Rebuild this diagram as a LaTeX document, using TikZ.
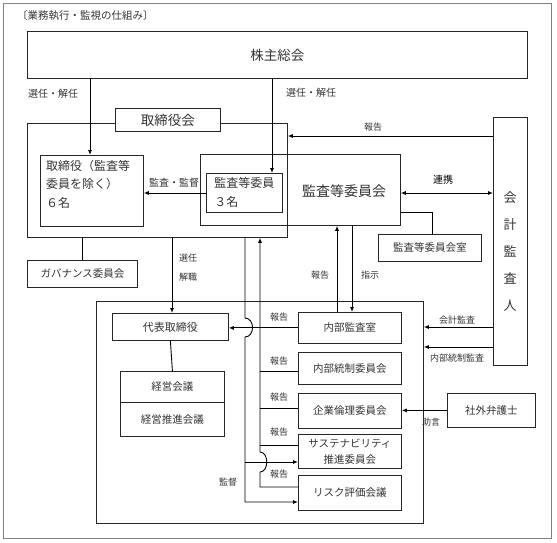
\documentclass[tikz,border=0pt]{standalone}
\usepackage{fontspec}
\newfontfamily\jp{Noto Sans CJK JP}
\usetikzlibrary{arrows.meta}
\tikzset{
  box/.style={draw=black!85, line width=0.8pt, inner sep=0pt, anchor=north west,
    text=black!80, font=\jp\fontsize{10.5pt}{13pt}\selectfont},
  txt/.style={inner sep=0pt, text=black!80, font=\jp\fontsize{10.5pt}{13pt}\selectfont},
  lbl/.style={inner sep=0pt, text=black!80, font=\jp\fontsize{9pt}{11pt}\selectfont},
  conn/.style={line width=0.9pt, draw=black},
  arr/.style={conn, -{Latex[length=5pt,width=4pt]}},
  darr/.style={conn, {Latex[length=5pt,width=4pt]}-{Latex[length=5pt,width=4pt]}},
}
\begin{document}
\begin{tikzpicture}[x=1pt,y=-1pt]
\useasboundingbox (0,0) rectangle (557,542);
% outer frame
\node[draw=black!50, line width=1pt, inner sep=0pt, anchor=north west,
  minimum width=548pt, minimum height=535pt] (frame) at (3,3) {};
\node[txt, anchor=west] (title) at (17,16) {〔業務執行・監視の仕組み〕};

% column / row coordinates
\coordinate (c90) at (90,0);
\coordinate (c172) at (172,0);
\coordinate (c245) at (245,0);
\coordinate (c260) at (260,0);
\coordinate (c272) at (272,0);
\coordinate (c337) at (337,0);
\coordinate (c352) at (352,0);
\coordinate (c432) at (432,0);
\coordinate (r136) at (0,136);
\coordinate (r193) at (0,193);
\coordinate (r212) at (0,212);
\coordinate (r328) at (0,327);
\coordinate (r347) at (0,347);
\coordinate (r371) at (0,371);
\coordinate (r408) at (0,408);
\coordinate (r445) at (0,445);
\coordinate (r462) at (0,462);
\coordinate (r487) at (0,487);
\coordinate (r502) at (0,502);

% shareholders
\node[box, minimum width=500pt, minimum height=47pt,
  font=\jp\fontsize{13.5pt}{15pt}\selectfont] (kabu) at (27,31) {株主総会};

% board
\node[box, minimum width=260pt, minimum height=114pt] (board) at (27,123) {};
\node[box, fill=white, minimum width=105pt, minimum height=23pt,
  font=\jp\fontsize{13.5pt}{15pt}\selectfont] (boardlbl) at (115,108) {取締役会};
\node[box, minimum width=103pt, minimum height=71pt] (dir) at (40,155) {};
\node[txt, anchor=west, align=left, font=\jp\fontsize{12pt}{18.5pt}\selectfont]
  (dirtxt) at (46,184) {取締役（監査等\\委員を除く）\\６名};
\node[box, minimum width=200pt, minimum height=71pt] (committee) at (200,154) {};
\node[txt, font=\jp\fontsize{14pt}{16pt}\selectfont] (committeetxt) at (344,191) {監査等委員会};
\node[box, minimum width=76pt, minimum height=39pt, align=left,
  font=\jp\fontsize{12pt}{19pt}\selectfont] (mem) at (206,173) {監査等委員\\３名};

\node[box, minimum width=110pt, minimum height=27pt] (gov) at (27,260) {ガバナンス委員会};
\node[box, minimum width=103pt, minimum height=27pt] (room) at (378,234) {監査等委員会室};

% accounting auditor
\node[box, minimum width=34pt, minimum height=248pt] (audit) at (493,117) {};
\node[txt, align=center, font=\jp\fontsize{13pt}{27pt}\selectfont] (audittxt) at (510,251)
  {会\\計\\監\\査\\人};

% executive area
\node[box, minimum width=327pt, minimum height=222pt] (exec) at (96,301) {};
\node[box, minimum width=116pt, minimum height=27pt, font=\jp\fontsize{11pt}{13pt}\selectfont]
  (rep) at (112,313) {代表取締役};
\node[box, minimum width=104pt, minimum height=31pt] (mgmt1) at (120,371) {経営会議};
\node[box, minimum width=104pt, minimum height=34pt] (mgmt2) at (120,402) {経営推進会議};

\node[box, minimum width=103pt, minimum height=31pt] (ia) at (298,312) {内部監査室};
\node[box, minimum width=103pt, minimum height=32pt] (ic) at (298,352) {内部統制委員会};
\node[box, minimum width=103pt, minimum height=35pt] (eth) at (298,393) {企業倫理委員会};
\node[box, minimum width=103pt, minimum height=34pt, align=center,
  font=\jp\fontsize{10.5pt}{16pt}\selectfont] (sus) at (298,434) {サステナビリティ\\推進委員会};
\node[box, minimum width=103pt, minimum height=35pt] (risk) at (298,475) {リスク評価会議};
\node[box, minimum width=88pt, minimum height=34pt] (lawyer) at (447,393) {社外弁護士};

% connectors
\draw[arr] (kabu.south -| c90) -- (dir.north -| c90);
\draw[arr] (kabu.south -| c272) -- (mem.north -| c272);
\draw[arr] (audit.west |- r136) -- (board.east |- r136);
\draw[arr] (mem.west |- r193) -- (dir.east |- r193);
\draw[darr] (committee.east |- r193) -- (audit.west |- r193);
\draw[conn] (committee.east |- r212) -| (room.north -| c432);
\draw[conn] (board.south -| gov.north) -- (gov.north);
\draw[arr] (board.south -| c172) -- (rep.north -| c172);
\draw[arr] (ia.north -| c337) -- (committee.south -| c337);
\draw[arr] (committee.south -| c352) -- (ia.north -| c352);
\draw[arr] (audit.west |- r328) -- (exec.east |- r328);
\draw[arr] (audit.west |- r347) -- (exec.east |- r347);
\draw[arr] (lawyer.west) -- (eth.east |- lawyer.west);
\draw[arr] (ia.west) -- (rep.east |- ia.west);
\draw[conn] (rep.south) -- (mgmt1.north);

% supervision line (board -> committees)
\draw[arr] (board.south -| c245) -- (245,318) .. controls (255,318) and (255,337) .. (245,337)
  -- (c245 |- r502) -- (risk.west |- r502);
\draw[arr] (c245 |- r462) -- (sus.west |- r462);

% report line (committees -> board)
\draw[arr] (risk.west |- r487) -- (c260 |- r487) -- (260,472) .. controls (269,472) and (269,452) .. (260,452)
  -- (board.south -| c260);
\draw[conn] (ic.west |- r371) -- (c260 |- r371);
\draw[conn] (eth.west |- r408) -- (c260 |- r408);
\draw[conn] (sus.west |- r445) -- (c260 |- r445);

% labels
\node[lbl, font=\jp\fontsize{10pt}{12pt}\selectfont] (l1) at (53,94) {選任・解任};
\node[lbl, font=\jp\fontsize{10pt}{12pt}\selectfont] (l2) at (311,93) {選任・解任};
\node[lbl] (l3) at (373,127) {報告};
\node[lbl, font=\jp\fontsize{10pt}{12pt}\selectfont] (l4) at (174,183) {監査・監督};
\node[lbl, text=black, font=\jp\fontsize{10pt}{12pt}\selectfont] (l5) at (443,180) {連携};
\node[lbl] (l6) at (188,258) {選任};
\node[lbl] (l7) at (188,277) {解職};
\node[lbl] (l8) at (320,275) {報告};
\node[lbl] (l9) at (370,275) {指示};
\node[lbl] (l10) at (457,320) {会計監査};
\node[lbl] (l11) at (457,358) {内部統制監査};
\node[lbl] (l12) at (279,317) {報告};
\node[lbl] (l13) at (279,361) {報告};
\node[lbl] (l14) at (279,397) {報告};
\node[lbl] (l15) at (279,432) {報告};
\node[lbl] (l16) at (279,474) {報告};
\node[lbl] (l17) at (228,482) {監督};
\node[lbl] (l18) at (431,422) {助言};
\end{tikzpicture}
\end{document}
